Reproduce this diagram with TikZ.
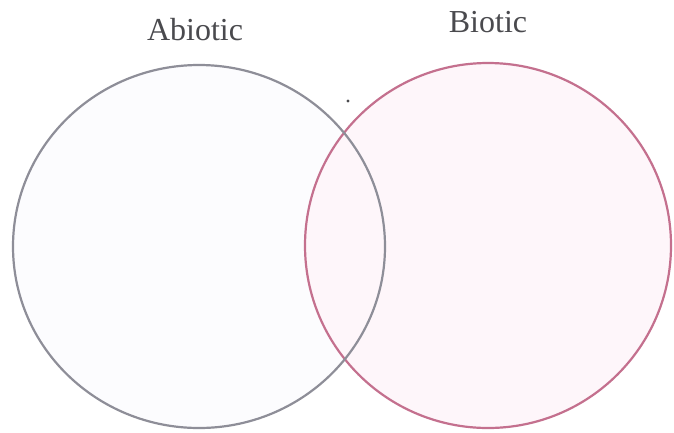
\documentclass[tikz,border=0pt]{standalone}
\usepackage{fontspec}
\setmainfont{Liberation Serif}
\definecolor{abioline}{HTML}{8E8E98}
\definecolor{abiofill}{HTML}{FCFCFE}
\definecolor{bioline}{HTML}{C4708E}
\definecolor{biofill}{HTML}{FEF6FA}
\definecolor{labelgray}{HTML}{4A4A4E}
\begin{document}
\begin{tikzpicture}[x=1pt,y=-1pt,
  setlabel/.style={text=labelgray,font=\fontsize{32}{34}\selectfont,anchor=base,inner sep=0pt},
  setcircle/.style={line width=2.2pt}]
\useasboundingbox (0,0) rectangle (674,432);
\fill[white] (0,0) rectangle (674,432);
% fills
\fill[abiofill] (199,246.5) ellipse [x radius=186, y radius=181.5];
\fill[biofill] (488,245.5) ellipse [x radius=183, y radius=182.5];
% outlines
\draw[setcircle,draw=bioline] (488,245.5) ellipse [x radius=183, y radius=182.5];
\draw[setcircle,draw=abioline] (199,246.5) ellipse [x radius=186, y radius=181.5];
\node[setlabel] (abio) at (195,40) {Abiotic};
\node[setlabel] (bio) at (488,32) {Biotic};
\fill[labelgray] (348,101) circle [radius=1.6];
\end{tikzpicture}
\end{document}
